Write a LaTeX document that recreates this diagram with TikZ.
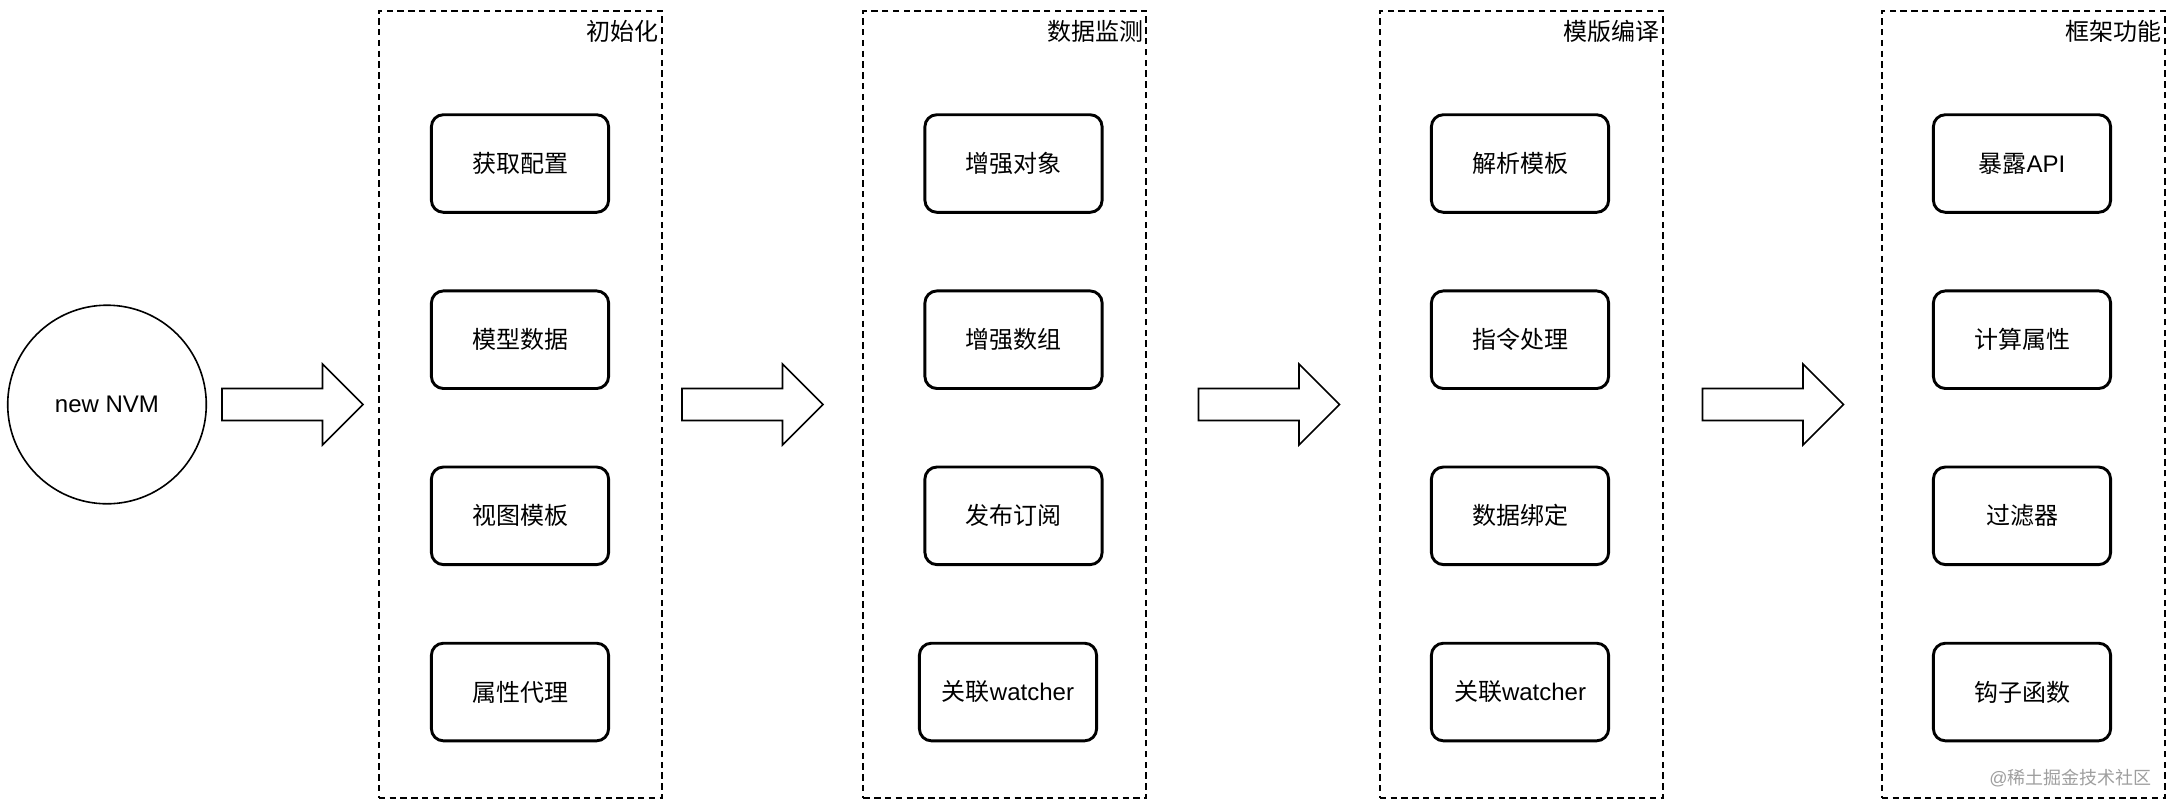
\documentclass[tikz,border=0pt]{standalone}
\usepackage{fontspec}
\setmainfont{Liberation Sans}
\newfontfamily\zhfont{Noto Sans CJK SC}
\newcommand{\zh}[1]{{\zhfont #1}}
\begin{document}
\begin{tikzpicture}[x=0.5pt,y=-0.5pt,
  stage/.style={draw, line width=0.9pt, dash pattern=on 3.2pt off 2.2pt,
    minimum width=141.5pt, minimum height=393.7pt, inner sep=0pt},
  item/.style={draw, line width=1.45pt, rounded corners=6pt,
    minimum width=88.6pt, minimum height=48.8pt, inner sep=0pt,
    font=\fontsize{12}{14}\selectfont},
  startnode/.style={circle, draw, line width=0.8pt, minimum size=99.3pt,
    inner sep=0pt, font=\fontsize{12}{14}\selectfont},
  stagetitle/.style={anchor=east, inner sep=0pt, font=\fontsize{12}{14}\selectfont},
  arrowline/.style={draw, line width=0.8pt, line join=miter},
  blockarrow/.pic={\path[arrowline] (-70.5,-16) -- (30,-16) -- (30,-40.5) -- (70.5,0)
      -- (30,40.5) -- (30,16) -- (-70.5,16) -- cycle;},
  watermark/.style={anchor=east, inner sep=0pt, text=black!38,
    font=\fontsize{9}{10}\selectfont}
]
\useasboundingbox (0,0) rectangle (2174,810);

% start
\node[startnode] (start) at (107,404.5) {new NVM};

% stages
\node[stage] (s1) at (520.2,404.5) {};
\node[stage] (s2) at (1004.8,404.5) {};
\node[stage] (s3) at (1521.3,404.5) {};
\node[stage] (s4) at (2023.3,404.5) {};

\node[stagetitle] (t1) at (658.5,31) {\zh{初始化}};
\node[stagetitle] (t2) at (1143.5,31) {\zh{数据监测}};
\node[stagetitle] (t3) at (1660,31) {\zh{模版编译}};
\node[stagetitle] (t4) at (2162,31) {\zh{框架功能}};

% arrows
\pic (a1) at (292.5,404.5) {blockarrow};
\pic (a2) at (752.5,404.5) {blockarrow};
\pic (a3) at (1269,404.5) {blockarrow};
\pic (a4) at (1773,404.5) {blockarrow};

% column 1
\node[item] (c1r1) at (520,163.5) {\zh{获取配置}};
\node[item] (c1r2) at (520,339.7) {\zh{模型数据}};
\node[item] (c1r3) at (520,515.8) {\zh{视图模板}};
\node[item] (c1r4) at (520,692) {\zh{属性代理}};

% column 2
\node[item] (c2r1) at (1013.5,163.5) {\zh{增强对象}};
\node[item] (c2r2) at (1013.5,339.7) {\zh{增强数组}};
\node[item] (c2r3) at (1013.5,515.8) {\zh{发布订阅}};
\node[item] (c2r4) at (1008,692) {\zh{关联}watcher};

% column 3
\node[item] (c3r1) at (1520,163.5) {\zh{解析模板}};
\node[item] (c3r2) at (1520,339.7) {\zh{指令处理}};
\node[item] (c3r3) at (1520,515.8) {\zh{数据绑定}};
\node[item] (c3r4) at (1520,692) {\zh{关联}watcher};

% column 4
\node[item] (c4r1) at (2022,163.5) {\zh{暴露}API};
\node[item] (c4r2) at (2022,339.7) {\zh{计算属性}};
\node[item] (c4r3) at (2022,515.8) {\zh{过滤器}};
\node[item] (c4r4) at (2022,692) {\zh{钩子函数}};

% watermark
\node[watermark] (wm) at (2152,778) {@\zh{稀土掘金技术社区}};
\end{tikzpicture}
\end{document}
